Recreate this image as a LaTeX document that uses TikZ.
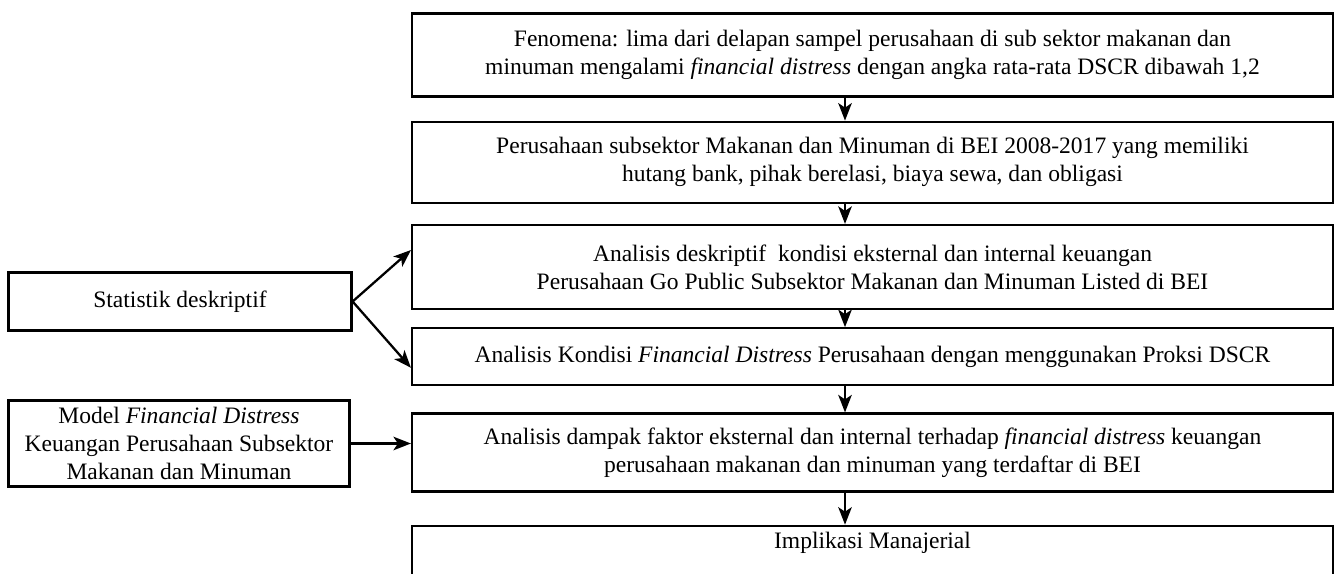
\documentclass[tikz,border=0pt]{standalone}
\usepackage{fontspec}
\setmainfont{Liberation Serif}
\usetikzlibrary{positioning,arrows.meta}

\begin{document}
\begin{tikzpicture}[line width=1.3pt,x=0.02cm,y=-0.02cm,
  flow/.style={-{Stealth[length=3.5mm,width=2.7mm,inset=0.9mm]},line width=1.3pt},
  main box/.style={draw,rectangle,align=center,minimum width=18.42cm,font=\fontsize{13.4}{16}\selectfont},
  side box/.style={draw,rectangle,align=center,font=\fontsize{13.4}{16}\selectfont}]
    \useasboundingbox (0,0) rectangle (1338,574);
    \clip (0,0) rectangle (1338,574);

    \node[main box,minimum height=1.66cm] (fenomena) at (872.5,55) {Fenomena: lima dari delapan sampel perusahaan di sub sektor makanan dan\\minuman mengalami \textit{financial distress} dengan angka rata-rata DSCR dibawah 1,2};
    \node[main box,minimum height=1.62cm] (sampel) [below=0.46cm of fenomena] {Perusahaan subsektor Makanan dan Minuman di BEI 2008-2017 yang memiliki\\hutang bank, pihak berelasi, biaya sewa, dan obligasi};
    \node[main box,minimum height=1.68cm] (deskriptif) [below=0.4cm of sampel] {Analisis deskriptif\ \ kondisi eksternal dan internal keuangan\\Perusahaan Go Public Subsektor Makanan dan Minuman Listed di BEI};
    \node[main box,minimum height=1.14cm] (kondisi) [below=0.34cm of deskriptif] {Analisis Kondisi \textit{Financial Distress} Perusahaan dengan menggunakan Proksi DSCR};
    \node[main box,minimum height=1.56cm] (dampak) [below=0.52cm of kondisi] {Analisis dampak faktor eksternal dan internal terhadap \textit{financial distress} keuangan\\perusahaan makanan dan minuman yang terdaftar di BEI};
    \node[main box,text depth=1.2cm] (implikasi) [below=0.64cm of dampak] {Implikasi Manajerial};

    \node[side box,minimum width=6.86cm,minimum height=1.16cm] (statistik) at (180,301.5) {Statistik deskriptif};
    \node[side box,minimum width=6.82cm,minimum height=1.72cm] (model) at (179,443.5) {Model \textit{Financial Distress}\\Keuangan Perusahaan Subsektor\\Makanan dan Minuman};

    \path[flow]
        ([xshift=-0.55cm]fenomena.south) edge ([xshift=-0.55cm]sampel.north)
        ([xshift=-0.55cm]sampel.south) edge ([xshift=-0.55cm]deskriptif.north)
        ([xshift=-0.55cm]deskriptif.south) edge ([xshift=-0.55cm]kondisi.north)
        ([xshift=-0.55cm]kondisi.south) edge ([xshift=-0.55cm]dampak.north)
        ([xshift=-0.55cm]dampak.south) edge ([xshift=-0.55cm]implikasi.north)
        (statistik.east) edge ([yshift=0.34cm]deskriptif.west)
        (statistik.east) edge ([yshift=-0.22cm]kondisi.west)
        (model.east) edge (model.east -| dampak.west)
        ;
\end{tikzpicture}
\end{document}
